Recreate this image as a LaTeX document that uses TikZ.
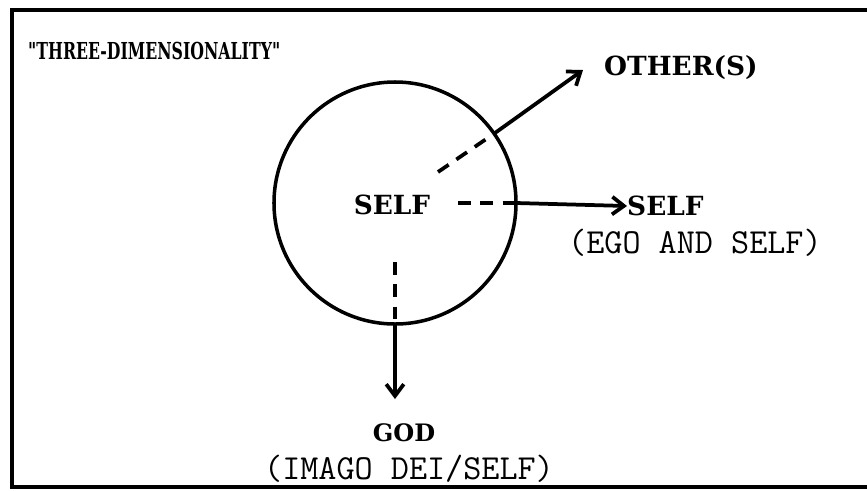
\documentclass[tikz,border=0pt]{standalone}
\usepackage{fontspec}
\setmainfont{Liberation Serif}
\newfontfamily\lblfont{DejaVu Serif}
\usetikzlibrary{arrows.meta}
\tikzset{
  lbl/.style={inner sep=0pt, font=\lblfont\fontsize{22.5}{26}\selectfont\bfseries},
  sub/.style={inner sep=0pt, font=\ttfamily\fontsize{30}{34}\selectfont},
  arr/.style={-{Straight Barb[length=10pt,width=15pt,line width=3.2pt]}, line width=3.2pt},
  dsh/.style={line width=3.2pt, dash pattern=on 11pt off 8pt}
}
\begin{document}
\begin{tikzpicture}[x=0.03cm, y=-0.03cm]
  \useasboundingbox (0,0) rectangle (867,490);
  \draw[line width=3.5pt] (880,10) -- (12,10) -- (12,487) -- (880,487);
  \node[lbl, anchor=west] (title) at (28,51) {\resizebox{7.56cm}{0.52cm}{"THREE-DIMENSIONALITY"}};
  \node[circle, draw, line width=3pt, minimum size=7.26cm, inner sep=0pt, outer sep=0pt] (circ) at (395,203) {};
  \node[lbl] (self) at (392,205) {SELF};
  \node[lbl, anchor=west] (other) at (604,68) {OTHER(S)};
  \node[lbl, anchor=west] (self2) at (627,206) {SELF};
  \node[sub, anchor=west] (ego) at (568,243) {(EGO AND SELF)};
  \node[lbl, font=\lblfont\fontsize{20.5}{24}\selectfont\bfseries] (god) at (404,433) {GOD};
  \node[sub] (imago) at (409,469) {(IMAGO DEI/SELF)};
  \coordinate (d1) at (438,172);
  \coordinate (d2) at (458,203);
  \coordinate (d3) at (395,262);
  \coordinate (t1) at (583,70);
  \coordinate (t3) at (395,399);
  \draw[dsh] (d1) -- (circ.35);
  \draw[arr] (circ.35) -- (t1);
  \draw[dsh] (d2) -- (circ.0);
  \draw[arr] (circ.0) -- (self2.west);
  \draw[dsh] (d3) -- (circ.270);
  \draw[arr] (circ.270) -- (t3);
\end{tikzpicture}
\end{document}
